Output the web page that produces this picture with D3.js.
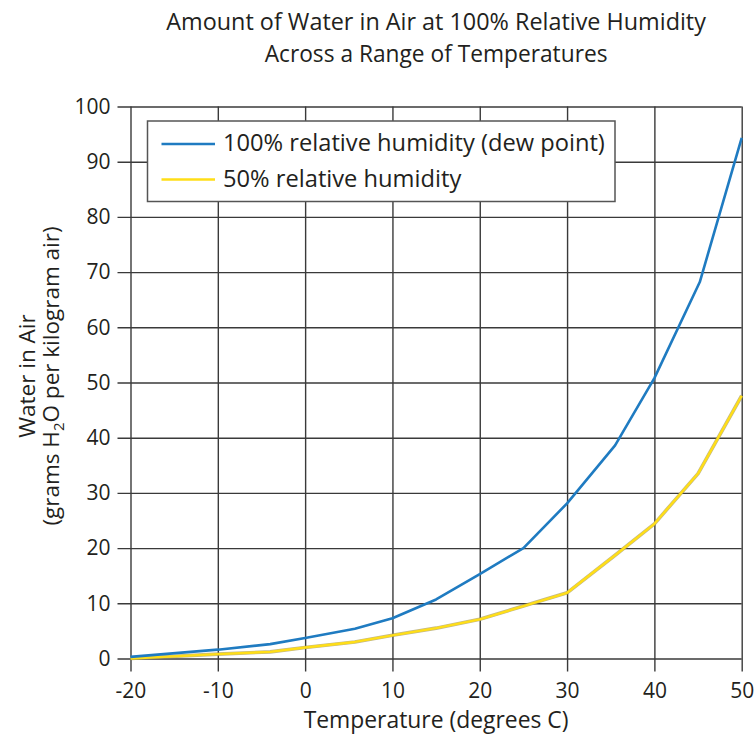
<!DOCTYPE html>
<html>
<head>
<meta charset="utf-8">
<script src="https://cdn.jsdelivr.net/npm/d3@7"></script>
<style>
  body { margin: 0; background: #fff; }
  text { font-family: "Open Sans", sans-serif; fill: #231f20; }
</style>
</head>
<body>
<svg id="chart" width="756" height="738"></svg>
<script>
// ---- data ----
const titleLines = ["Amount of Water in Air at 100% Relative Humidity", "Across a Range of Temperatures"];
const xTicks = [-20, -10, 0, 10, 20, 30, 40, 50];
const yTicks = [0, 10, 20, 30, 40, 50, 60, 70, 80, 90, 100];
const seriesNames = ["100% relative humidity (dew point)", "50% relative humidity"];
const tempDew = [-20, -10, -4, 0, 5.7, 10, 15, 20, 25, 30, 35.5, 40, 45.2, 50];
const water100 = [0.3, 1.6, 2.6, 3.7, 5.4, 7.3, 10.7, 15.3, 20.0, 28.1, 38.6, 50.8, 68.2, 94.3];
const temp50 = [-20, -10, -4, 0, 5.7, 10, 15, 20, 25, 30, 35.5, 40, 45, 50];
const water50 = [0.0, 0.8, 1.2, 2.0, 3.0, 4.2, 5.5, 7.1, 9.5, 11.9, 18.7, 24.4, 33.5, 47.6];

// ---- layout ----
const svg = d3.select("#chart");
const L = 130.5, R = 741.7, T = 106.5, B = 658.5;
const W = R - L, H = B - T;
const x = d3.scaleLinear().domain([-20, 50]).range([L, R]);
const y = d3.scaleLinear().domain([0, 100]).range([B, T]);
const gridColor = "#3a3a3a";

// size a text so its rendered width matches the reference width
function fit(sel, target) {
  const node = sel.node();
  const cur = parseFloat(sel.style("font-size"));
  const w = node.getComputedTextLength();
  if (w > 0) sel.style("font-size", (cur * target / w).toFixed(2) + "px");
  return sel;
}

// title
fit(svg.append("text").attr("x", (L + R) / 2).attr("y", 30).attr("text-anchor", "middle")
  .style("font-size", "20px").text(titleLines[0]), 540);
fit(svg.append("text").attr("x", (L + R) / 2).attr("y", 62).attr("text-anchor", "middle")
  .style("font-size", "20px").text(titleLines[1]), 343);

// x axis + vertical grid
const xAxis = svg.append("g").attr("transform", `translate(0,${B})`)
  .call(d3.axisBottom(x).tickValues(xTicks).tickSize(13).tickSizeOuter(0).tickPadding(12).tickFormat(d => String(d)));
xAxis.select(".domain").remove();
xAxis.selectAll(".tick line").attr("y1", -H).attr("stroke", gridColor).attr("stroke-width", 1.4);
xAxis.selectAll(".tick text").style("font-size", "21px").attr("fill", "#231f20").style("font-family", "'Open Sans', sans-serif");

// y axis + horizontal grid
const yAxis = svg.append("g").attr("transform", `translate(${L},0)`)
  .call(d3.axisLeft(y).tickValues(yTicks).tickSize(13).tickSizeOuter(0).tickPadding(7));
yAxis.select(".domain").remove();
yAxis.selectAll(".tick line").attr("x1", W).attr("stroke", gridColor).attr("stroke-width", 1.4);
yAxis.selectAll(".tick text").style("font-size", "21px").attr("fill", "#231f20").style("font-family", "'Open Sans', sans-serif");

// axis titles
fit(svg.append("text").attr("x", (L + R) / 2).attr("y", 728).attr("text-anchor", "middle")
  .style("font-size", "19px").text("Temperature (degrees C)"), 265);
const yt = svg.append("g").attr("transform", `translate(0,376) rotate(-90)`);
yt.append("text").attr("x", 0).attr("y", 35).attr("text-anchor", "middle")
  .style("font-size", "22.5px").text("Water in Air");
const yt2 = yt.append("text").attr("x", 0).attr("y", 59).attr("text-anchor", "middle").style("font-size", "22.5px");
yt2.append("tspan").text("(grams H");
yt2.append("tspan").attr("dy", 5).style("font-size", "15px").text("2");
yt2.append("tspan").attr("dy", -5).text("O per kilogram air)");

// lines
const line = d3.line().x(d => x(d[0])).y(d => y(d[1]));
const d100 = tempDew.map((t, i) => [t, water100[i]]);
const d50 = temp50.map((t, i) => [t, water50[i]]);

svg.append("path").datum(d50).attr("d", line).attr("fill", "none")
  .attr("stroke", "#a89a55").attr("stroke-opacity", 0.7).attr("stroke-width", 3.6).attr("stroke-linejoin", "round");
svg.append("path").datum(d50).attr("d", line).attr("fill", "none")
  .attr("stroke", "#ffde17").attr("stroke-width", 2.4).attr("stroke-linejoin", "round");
svg.append("path").datum(d100).attr("d", line).attr("fill", "none")
  .attr("stroke", "#1f7bc1").attr("stroke-width", 2.6).attr("stroke-linejoin", "round");

// legend
const lg = svg.append("g");
lg.append("rect").attr("x", 147.5).attr("y", 121).attr("width", 467.5).attr("height", 80.5)
  .attr("fill", "#fff").attr("stroke", "#555").attr("stroke-width", 1.5);
const legColors = ["#1f7bc1", "#ffde17"];
const legTexts = [];
seriesNames.forEach((name, i) => {
  const cy = 144 + i * 35.5;
  lg.append("line").attr("x1", 161.5).attr("x2", 215).attr("y1", cy).attr("y2", cy)
    .attr("stroke", legColors[i]).attr("stroke-width", 2.6);
  legTexts.push(lg.append("text").attr("x", 223).attr("y", cy + 7).style("font-size", "20px").text(name));
});
fit(legTexts[0], 382);
legTexts[1].style("font-size", legTexts[0].style("font-size"));
</script>
</body>
</html>
